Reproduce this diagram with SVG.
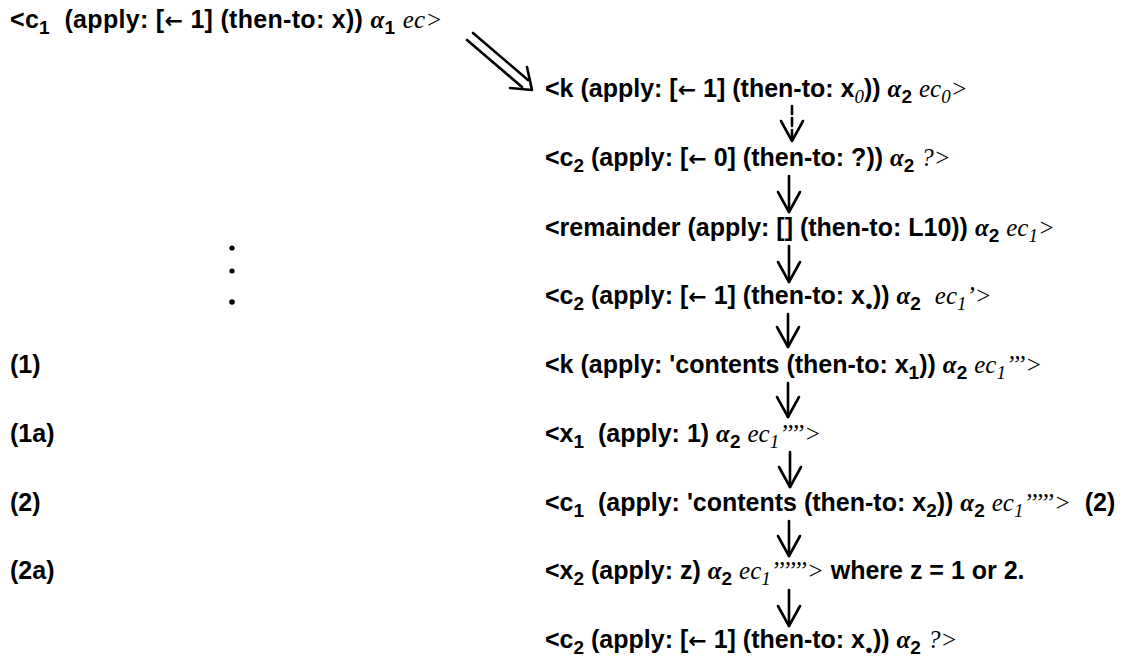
<svg xmlns="http://www.w3.org/2000/svg" width="1132" height="659" viewBox="0 0 1132 659">
<style>
text{font-family:"Liberation Sans","DejaVu Sans",sans-serif;font-weight:bold;font-size:25px;fill:#000;white-space:pre}
.s{font-size:19px}
.i{font-family:"Liberation Serif","DejaVu Serif",serif;font-style:italic;font-weight:normal}
.a{font-family:"Liberation Serif","DejaVu Serif",serif;font-style:italic;font-weight:bold}
.d{font-size:13px}
.l{font-family:"DejaVu Sans",sans-serif;font-size:22px}
.c line,.c polyline{stroke:#000;stroke-width:2.6;fill:none;stroke-linecap:round;stroke-linejoin:round}
</style>
<defs>
<marker id="v" markerUnits="userSpaceOnUse" viewBox="-22 -13 24 26" markerWidth="24" markerHeight="26" refX="0" refY="0" orient="auto">
<path d="M-20,-11 L0,0 L-20,11" fill="none" stroke="#000" stroke-width="2.6" stroke-linecap="round" stroke-linejoin="round"/>
</marker>
</defs>
<rect width="1132" height="659" fill="#fff"/>
<g id="n0"><text x="10" y="28" letter-spacing="0.3">&lt;c<tspan class="s" dy="6">1</tspan><tspan dy="-6">  (apply: [</tspan><tspan class="l">←</tspan><tspan> 1] (then-to: x)) </tspan><tspan class="a">α</tspan><tspan class="s" dy="6">1</tspan><tspan dy="-6"> </tspan><tspan class="i">ec&gt;</tspan></text></g>
<g id="n1"><text x="545" y="97">&lt;k (apply: [<tspan class="l">←</tspan><tspan> 1] (then-to: x</tspan><tspan class="s i" dy="6">0</tspan><tspan dy="-6">)) </tspan><tspan class="a">α</tspan><tspan class="s" dy="6">2</tspan><tspan dy="-6"> </tspan><tspan class="i">ec</tspan><tspan class="s i" dy="6">0</tspan><tspan class="i" dy="-6">&gt;</tspan></text></g>
<g id="n2"><text x="545" y="166">&lt;c<tspan class="s" dy="6">2</tspan><tspan dy="-6"> (apply: [</tspan><tspan class="l">←</tspan><tspan> 0] (then-to: ?)) </tspan><tspan class="a">α</tspan><tspan class="s" dy="6">2</tspan><tspan dy="-6"> </tspan><tspan class="i">?&gt;</tspan></text></g>
<g id="n3"><text x="545" y="236">&lt;remainder (apply: [] (then-to: L10)) <tspan class="a">α</tspan><tspan class="s" dy="6">2</tspan><tspan dy="-6"> </tspan><tspan class="i">ec</tspan><tspan class="s i" dy="6">1</tspan><tspan class="i" dy="-6">&gt;</tspan></text></g>
<g id="n4"><text x="545" y="304">&lt;c<tspan class="s" dy="6">2</tspan><tspan dy="-6"> (apply: [</tspan><tspan class="l">←</tspan><tspan> 1] (then-to: x</tspan><tspan class="d" dy="6">●</tspan><tspan dy="-6">)) </tspan><tspan class="a">α</tspan><tspan class="s" dy="6">2</tspan><tspan dy="-6">  </tspan><tspan class="i">ec</tspan><tspan class="s i" dy="6">1</tspan><tspan class="i" dy="-6">’&gt;</tspan></text></g>
<g id="n5"><text x="545" y="373">&lt;k (apply: 'contents (then-to: x<tspan class="s" dy="6">1</tspan><tspan dy="-6">)) </tspan><tspan class="a">α</tspan><tspan class="s" dy="6">2</tspan><tspan dy="-6"> </tspan><tspan class="i">ec</tspan><tspan class="s i" dy="6">1</tspan><tspan class="i" dy="-6">’’’&gt;</tspan></text></g>
<g id="n6"><text x="545" y="442">&lt;x<tspan class="s" dy="6">1</tspan><tspan dy="-6">  (apply: 1) </tspan><tspan class="a">α</tspan><tspan class="s" dy="6">2</tspan><tspan dy="-6"> </tspan><tspan class="i">ec</tspan><tspan class="s i" dy="6">1</tspan><tspan class="i" dy="-6">’’’’&gt;</tspan></text></g>
<g id="n7"><text x="545" y="511">&lt;c<tspan class="s" dy="6">1</tspan><tspan dy="-6">  (apply: 'contents (then-to: x</tspan><tspan class="s" dy="6">2</tspan><tspan dy="-6">)) </tspan><tspan class="a">α</tspan><tspan class="s" dy="6">2</tspan><tspan dy="-6"> </tspan><tspan class="i">ec</tspan><tspan class="s i" dy="6">1</tspan><tspan class="i" dy="-6">’’’’’&gt;</tspan><tspan>  (2)</tspan></text></g>
<g id="n8"><text x="545" y="579">&lt;x<tspan class="s" dy="6">2</tspan><tspan dy="-6"> (apply: z) </tspan><tspan class="a">α</tspan><tspan class="s" dy="6">2</tspan><tspan dy="-6"> </tspan><tspan class="i">ec</tspan><tspan class="s i" dy="6">1</tspan><tspan class="i" dy="-6">’’’’’’&gt;</tspan><tspan> where z = 1 or 2.</tspan></text></g>
<g id="n9"><text x="545" y="648">&lt;c<tspan class="s" dy="6">2</tspan><tspan dy="-6"> (apply: [</tspan><tspan class="l">←</tspan><tspan> 1] (then-to: x</tspan><tspan class="d" dy="6">●</tspan><tspan dy="-6">)) </tspan><tspan class="a">α</tspan><tspan class="s" dy="6">2</tspan><tspan dy="-6"> </tspan><tspan class="i">?&gt;</tspan></text></g>
<g id="labels">
<text x="10" y="373">(1)</text>
<text x="10" y="442">(1a)</text>
<text x="10" y="511">(2)</text>
<text x="10" y="579">(2a)</text>
<circle cx="232" cy="248" r="2.6"/>
<circle cx="232" cy="271" r="2.6"/>
<circle cx="232" cy="302" r="2.8"/>
</g>
<g class="c" id="connectors">
<line x1="473" y1="33" x2="528" y2="80"/>
<line x1="467" y1="40" x2="522" y2="87"/>
<polyline points="527,67 532,90 510,88"/>
<line x1="792" y1="106" x2="792" y2="141" stroke-dasharray="8,4" marker-end="url(#v)"/>
<line x1="789" y1="176" x2="789" y2="212" marker-end="url(#v)"/>
<line x1="789" y1="246" x2="789" y2="282" marker-end="url(#v)"/>
<line x1="788" y1="314" x2="788" y2="347" marker-end="url(#v)"/>
<line x1="788" y1="383" x2="788" y2="417" marker-end="url(#v)"/>
<line x1="790" y1="452" x2="790" y2="487" marker-end="url(#v)"/>
<line x1="789" y1="521" x2="789" y2="556" marker-end="url(#v)"/>
<line x1="789" y1="590" x2="789" y2="626" marker-end="url(#v)"/>
</g>
</svg>
